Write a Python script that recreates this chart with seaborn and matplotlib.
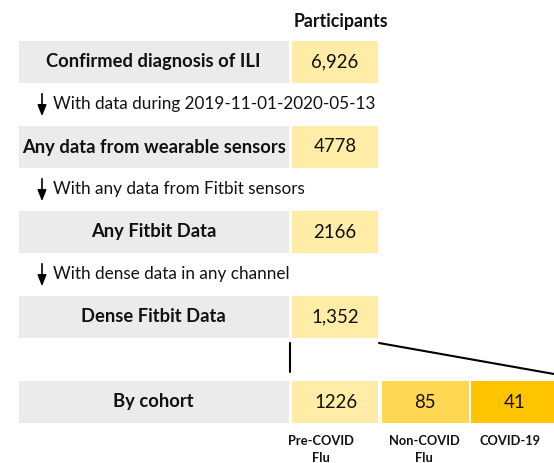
import numpy as np
import matplotlib
matplotlib.use("Agg")
from matplotlib import pyplot as plt
import seaborn as sns

# data
stages = ["Confirmed diagnosis of ILI", "Any data from wearable sensors",
          "Any Fitbit Data", "Dense Fitbit Data"]
stage_counts = ["6,926", "4778", "2166", "1,352"]
step_notes = ["With data during 2019-11-01-2020-05-13",
              "With any data from Fitbit sensors",
              "With dense data in any channel"]
cohort_row = "By cohort"
cohorts = ["Pre-COVID\nFlu", "Non-COVID\nFlu", "COVID-19"]
cohort_counts = [1226, 85, 41]

sns.set_theme(style="white")
plt.rcParams['font.family'] = ['Lato', 'DejaVu Sans']

GRAY = "#ebebeb"
YELLOWS = ["#ffeca6", "#ffd752", "#ffc400"]

fig = plt.figure(figsize=(5.54, 4.63), dpi=100)
ax = fig.add_axes([0, 0, 1, 1])
ax.set_xlim(0, 554)
ax.set_ylim(463, 0)
ax.axis("off")

row_top = 41
row_step = 85
row_h = 42
gray_x, gray_w = 18.5, 270.5
cnt_x, cnt_w = 292, 86
fs_bold = 13.2
fs_num = 13.4

ax.text(341, 21, "Participants", ha="center", va="center",
        fontsize=12.8, fontweight="bold", color="#111111")

for i, (lab, cnt) in enumerate(zip(stages, stage_counts)):
    yc = row_top + i * row_step + row_h / 2
    ax.barh(yc, gray_w, left=gray_x, height=row_h, color=GRAY, linewidth=0)
    ax.barh(yc, cnt_w, left=cnt_x, height=row_h, color=YELLOWS[0], linewidth=0)
    ax.text(gray_x + gray_w / 2, yc, lab, ha="center", va="center",
            fontsize=fs_bold, fontweight="bold", color="#111111")
    ax.text(cnt_x + cnt_w / 2, yc, cnt, ha="center", va="center",
            fontsize=fs_num, color="#111111")

for i, note in enumerate(step_notes):
    y0 = row_top + i * row_step + row_h
    ax.annotate("", xy=(42, y0 + 36), xytext=(42, y0 + 8),
                arrowprops=dict(arrowstyle="-|>,head_width=0.22,head_length=0.55",
                                color="black", lw=1.2))
    ax.text(53, y0 + 21, note, ha="left", va="center", fontsize=12.3,
            color="#111111")

# connectors to cohort row
y4 = row_top + 3 * row_step + row_h
y5 = row_top + 4 * row_step
ax.plot([290, 290], [y4 + 5, y4 + 34], color="black", lw=1.5)
ax.plot([379, 554], [y4 + 5, y4 + 36], color="black", lw=1.5)

yc = y5 + row_h / 2
ax.barh(yc, gray_w, left=gray_x, height=row_h, color=GRAY, linewidth=0)
ax.text(gray_x + gray_w / 2, yc, cohort_row, ha="center", va="center",
        fontsize=fs_bold, fontweight="bold", color="#111111")
lab_x = [321, 424, 510]
for j, (name, n) in enumerate(zip(cohorts, cohort_counts)):
    x0 = cnt_x + j * 89.5
    ax.barh(yc, 87 if j else cnt_w, left=x0, height=row_h,
            color=YELLOWS[j], linewidth=0)
    ax.text(x0 + 43.5, yc, str(n), ha="center", va="center",
            fontsize=fs_num, color="#111111")
    ax.text(lab_x[j], 435, name, ha="center", va="top", fontsize=9.3,
            fontweight="bold", color="#111111", linespacing=1.45)

fig.savefig("out.png", dpi=100)
